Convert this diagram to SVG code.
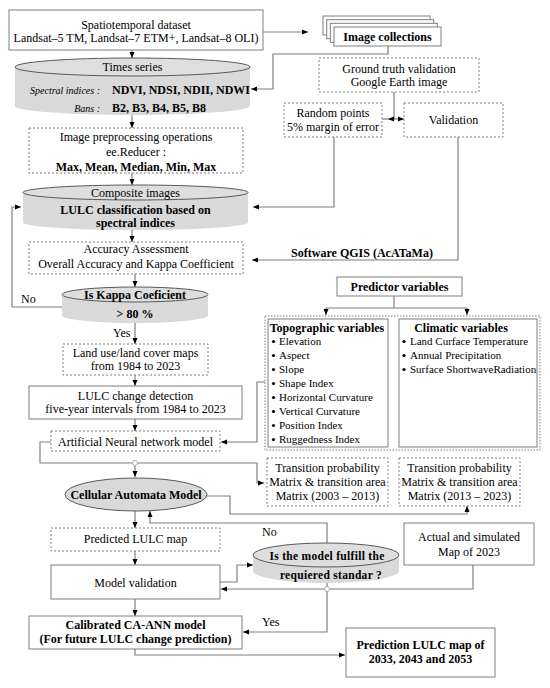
<svg xmlns="http://www.w3.org/2000/svg" width="550" height="688" viewBox="0 0 550 688">
<style>
text{font-family:"Liberation Serif","Times New Roman",serif;font-size:12px;fill:#000;text-anchor:middle}
.b{font-weight:bold}
.i{font-style:italic;font-size:10px;text-anchor:end}
.s{font-size:11px;text-anchor:start}
.st{text-anchor:start}
.box{fill:#fff;stroke:#7f7f7f;stroke-width:1}
.dash{fill:#fff;stroke:#7f7f7f;stroke-width:1;stroke-dasharray:2,2}
.cylb{fill:#d9d9d9;stroke:none}
.cylt{fill:#dedede;stroke:#595959;stroke-width:1}
.c{fill:none;stroke:#7f7f7f;stroke-width:1.2}
.a{marker-end:url(#ah)}
.j{fill:#fff;stroke:#aaa;stroke-width:1}
.bul{fill:#000}
</style>
<defs>
<marker id="ah" markerUnits="userSpaceOnUse" markerWidth="6" markerHeight="6" viewBox="0 0 6 6" refX="6" refY="3" orient="auto">
<path d="M0,0.5 L6,3 L0,5.5 Z" fill="#000"/>
</marker>
<marker id="as" markerUnits="userSpaceOnUse" markerWidth="6" markerHeight="6" viewBox="0 0 6 6" refX="0" refY="3" orient="auto">
<path d="M6,0.5 L0,3 L6,5.5 Z" fill="#000"/>
</marker>
</defs>

<g id="connectors">
<path class="c a" d="M263,32 H308"/>
<path class="c a" d="M388,46 V54 H273 V89 H251"/>
<path class="c a" d="M132,50 V58"/>
<path class="c a" d="M132,115 V128"/>
<path class="c a" d="M132,173 V185"/>
<path class="c a" d="M132,230 V242"/>
<path class="c a" d="M135,274 V287"/>
<path class="c a" d="M135,323 V344"/>
<path class="c a" d="M135,375 V386"/>
<path class="c a" d="M135,419 V431"/>
<path class="c a" d="M62,307 H12 V207 H21"/>
<path class="c" d="M394,92 V119"/>
<path class="c a" d="M388,119 H404" style="marker-start:url(#as)"/>
<path class="c" d="M382,119 H388"/>
<path class="c a" d="M334,137 V207 H253"/>
<path class="c a" d="M458,137 V260 H252"/>
<path class="c" d="M394,296 V308 M326,308 H467"/>
<path class="c a" d="M326,308 V315"/>
<path class="c a" d="M467,308 V315"/>
<path class="c a" d="M265,382 H257 V442 H221"/>
<path class="c a" d="M51,442 H40 V463 H257 V483 H264"/>
<path class="c a" d="M135,463 V477"/>
<path class="c a" d="M207,496 H230 V514 H467 V506"/>
<path class="c a" d="M135,511 V528"/>
<path class="c a" d="M327,543 V523 H150 V511"/>
<path class="c a" d="M135,551 V565"/>
<path class="c a" d="M220,582 H237 V565 H253"/>
<path class="c a" d="M473,565 V589 H221"/>
<path class="c" d="M327,583 V589"/>
<path class="c a" d="M327,589 V632 H243"/>
<path class="c a" d="M135,599 V616"/>
<path class="c a" d="M135,649 V655 H345"/>
<circle class="j" cx="135" cy="463" r="2.5"/>
<circle class="j" cx="327" cy="589" r="2.5"/>
</g>

<g id="dataset">
<rect class="box" x="9" y="10" width="254" height="40"/>
<text x="136" y="29">Spatiotemporal dataset</text>
<text x="136" y="42">Landsat–5 TM, Landsat–7 ETM+, Landsat–8 OLI)</text>
</g>

<g id="image-collections">
<rect class="box" x="323" y="16" width="107" height="19"/>
<rect class="box" x="326.7" y="19.7" width="107" height="19"/>
<rect class="box" x="330.3" y="23.3" width="107" height="19"/>
<rect class="box" x="334" y="27" width="107" height="19"/>
<text class="b" x="387.5" y="41">Image collections</text>
</g>

<g id="times-series">
<path class="cylb" d="M15,67 V106 A117.5,9 0 0 0 250,106 V67 Z"/>
<ellipse class="cylt" cx="132.5" cy="67" rx="117.5" ry="9"/>
<text x="132.5" y="71">Times series</text>
<text class="i" x="100" y="94">Spectral indices :</text>
<text class="b st" x="112" y="94">NDVI, NDSI, NDII, NDWI</text>
<text class="i" x="100" y="112">Bans :</text>
<text class="b st" x="112" y="112">B2, B3, B4, B5, B8</text>
</g>

<g id="ground-truth">
<rect class="dash" x="319" y="58" width="160" height="34"/>
<text x="399" y="73">Ground truth validation</text>
<text x="399" y="86">Google Earth image</text>
</g>

<g id="random-points">
<rect class="dash" x="284" y="103" width="98" height="34"/>
<text x="333" y="117">Random points</text>
<text x="333" y="131">5% margin of error</text>
</g>

<g id="validation">
<rect class="dash" x="404" y="103" width="99" height="34"/>
<text x="453.5" y="124">Validation</text>
</g>

<g id="preprocessing">
<rect class="dash" x="29" y="128" width="214" height="45"/>
<text x="136" y="141">Image preprocessing operations</text>
<text x="136" y="156">ee.Reducer :</text>
<text class="b" x="136" y="171">Max, Mean, Median, Min, Max</text>
</g>

<g id="composite">
<path class="cylb" d="M23,192.5 V222.5 A112.5,7.5 0 0 0 248,222.5 V192.5 Z"/>
<ellipse class="cylt" cx="135.5" cy="192.5" rx="112.5" ry="7.5"/>
<text x="135.5" y="196.5">Composite images</text>
<text class="b" x="135.5" y="214">LULC classification based on</text>
<text class="b" x="135.5" y="227">spectral indices</text>
</g>

<g id="qgis-label">
<text class="b" x="362" y="257">Software QGIS (AcATaMa)</text>
</g>

<g id="accuracy">
<rect class="dash" x="29" y="242" width="214" height="32"/>
<text x="136" y="253">Accuracy Assessment</text>
<text x="136" y="268">Overall Accuracy and Kappa Coefficient</text>
</g>

<g id="kappa">
<path class="cylb" d="M62,294.5 V315.5 A73,7.5 0 0 0 208,315.5 V294.5 Z"/>
<ellipse class="cylt" cx="135" cy="294.5" rx="73" ry="7.5"/>
<text class="b" x="135" y="298.5">Is Kappa Coeficient</text>
<text class="b" x="135" y="318">&gt; 80 %</text>
<text class="st" x="21" y="303">No</text>
<text class="st" x="113" y="337">Yes</text>
</g>

<g id="lulc-maps">
<rect class="dash" x="63" y="344" width="145" height="31"/>
<text x="135.5" y="357">Land use/land cover maps</text>
<text x="135.5" y="370">from 1984 to 2023</text>
</g>

<g id="change-detection">
<rect class="box" x="29" y="386" width="213" height="33"/>
<text x="135.5" y="400">LULC change detection</text>
<text x="135.5" y="413">five-year intervals from 1984 to 2023</text>
</g>

<g id="ann">
<rect class="dash" x="51" y="431" width="169" height="20"/>
<text x="135.5" y="446">Artificial Neural network model</text>
</g>

<g id="predictor">
<rect class="box" x="337" y="277" width="125" height="19"/>
<text class="b" x="399.5" y="291">Predictor variables</text>
</g>

<g id="predictor-group">
<rect class="dash" x="265" y="316" width="275" height="134" style="stroke-dasharray:1.5,1.5"/>
<rect class="box" x="268" y="319" width="120" height="128"/>
<rect class="box" x="399" y="319" width="138" height="128"/>
<text class="b" x="327" y="332">Topographic variables</text>
<g class="bul">
<circle cx="273.5" cy="341.5" r="1.6"/><circle cx="273.5" cy="355.5" r="1.6"/><circle cx="273.5" cy="369.5" r="1.6"/><circle cx="273.5" cy="383.5" r="1.6"/>
<circle cx="273.5" cy="397.5" r="1.6"/><circle cx="273.5" cy="411.5" r="1.6"/><circle cx="273.5" cy="425.5" r="1.6"/><circle cx="273.5" cy="439.5" r="1.6"/>
<circle cx="404" cy="341.5" r="1.6"/><circle cx="404" cy="355.5" r="1.6"/><circle cx="404" cy="369.5" r="1.6"/>
</g>
<text class="s" x="279" y="345">Elevation</text>
<text class="s" x="279" y="359">Aspect</text>
<text class="s" x="279" y="373">Slope</text>
<text class="s" x="279" y="387">Shape Index</text>
<text class="s" x="279" y="401">Horizontal Curvature</text>
<text class="s" x="279" y="415">Vertical Curvature</text>
<text class="s" x="279" y="429">Position Index</text>
<text class="s" x="279" y="443">Ruggedness Index</text>
<text class="b" x="461" y="332">Climatic variables</text>
<text class="s" x="410" y="345">Land Curface Temperature</text>
<text class="s" x="410" y="359">Annual Precipitation</text>
<text class="s" x="410" y="373">Surface ShortwaveRadiation</text>
</g>

<g id="transition-1">
<rect class="dash" x="267" y="458" width="121" height="48"/>
<text x="327.5" y="472">Transition probability</text>
<text x="327.5" y="486">Matrix &amp; transition area</text>
<text x="327.5" y="500">Matrix (2003 – 2013)</text>
</g>

<g id="transition-2">
<rect class="dash" x="399" y="458" width="121" height="48"/>
<text x="459.5" y="472">Transition probability</text>
<text x="459.5" y="486">Matrix &amp; transition area</text>
<text x="459.5" y="500">Matrix (2013 – 2023)</text>
</g>

<g id="ca-model">
<ellipse cx="136" cy="494.5" rx="71" ry="16.5" fill="#d9d9d9" stroke="#595959" stroke-width="1"/>
<text class="b" x="136" y="498.5">Cellular Automata Model</text>
</g>

<g id="predicted">
<rect class="dash" x="51" y="528" width="169" height="23"/>
<text x="135.5" y="543">Predicted LULC map</text>
</g>

<g id="actual">
<rect class="box" x="404" y="523" width="130" height="42"/>
<text x="469" y="541">Actual and simulated</text>
<text x="469" y="556">Map of 2023</text>
</g>

<g id="decision">
<path class="cylb" d="M253,555 V571 A73,12 0 0 0 399,571 V555 Z"/>
<ellipse class="cylt" cx="326" cy="555" rx="73" ry="12"/>
<text class="b" x="327" y="560" style="font-size:11.5px;letter-spacing:0.3px">Is the model fulfill the</text>
<text class="b" x="331" y="579" style="font-size:11.5px;letter-spacing:0.3px">requiered standar ?</text>
<text class="st" x="262" y="536">No</text>
<text class="st" x="262" y="626">Yes</text>
</g>

<g id="model-validation">
<rect class="box" x="51" y="565" width="169" height="34"/>
<text x="135.5" y="587">Model validation</text>
</g>

<g id="calibrated">
<rect class="box" x="29" y="616" width="213" height="33"/>
<text class="b" x="135.5" y="629">Calibrated CA-ANN model</text>
<text class="b" x="135.5" y="643">(For future LULC change prediction)</text>
</g>

<g id="prediction">
<rect class="box" x="346" y="628" width="149" height="49"/>
<text class="b" x="420.5" y="649">Prediction LULC map of</text>
<text class="b" x="420.5" y="663">2033, 2043 and 2053</text>
</g>
</svg>
